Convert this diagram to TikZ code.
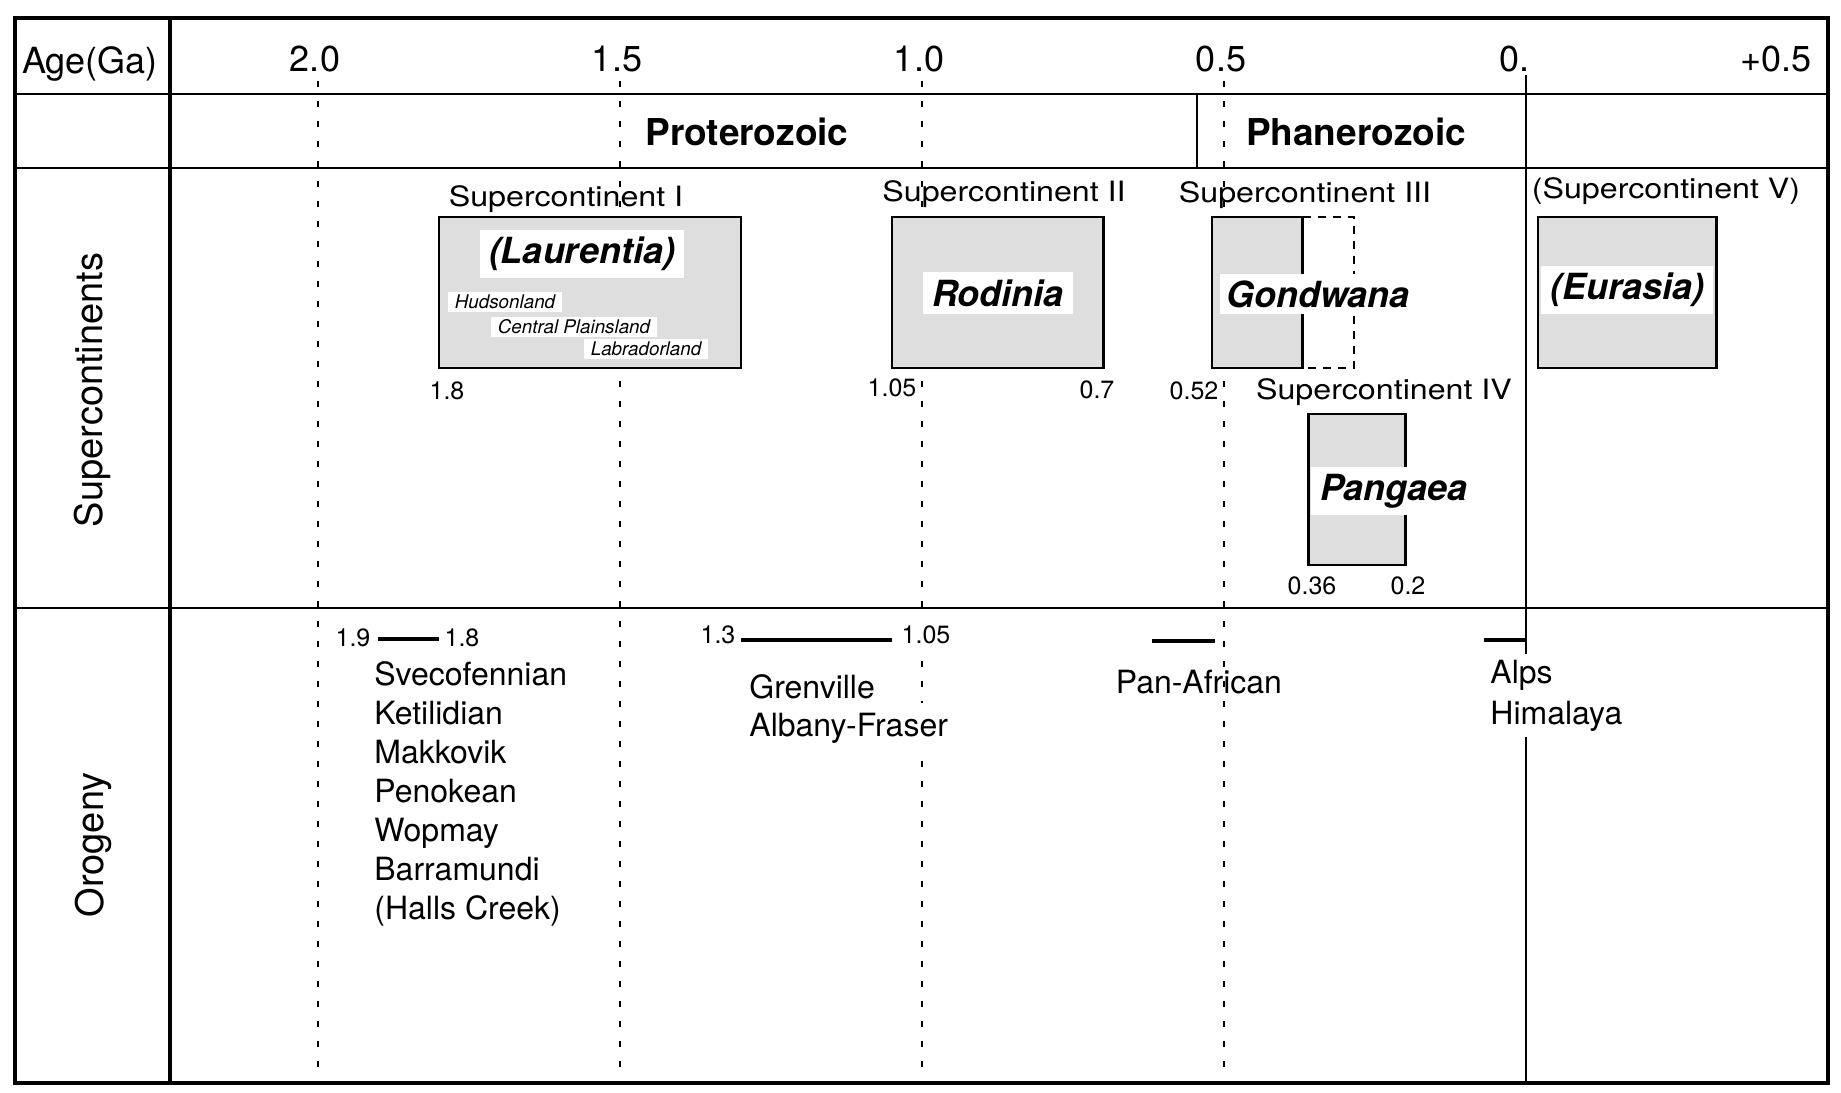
\documentclass[tikz,border=0pt]{standalone}
\usepackage{fontspec}
\setmainfont{TeX Gyre Heros}
\newfontfamily\largafont[FakeStretch=1.15]{TeX Gyre Heros}
\usepackage{tikz}

% idade (Ga) -> posicao horizontal
\pgfmathdeclarefunction{ga}{1}{\pgfmathparse{1526-604*#1}}

\tikzset{
  moldura/.style={line width=2pt},
  linha/.style={line width=1.3pt},
  idade/.style={line width=1.2pt, dash pattern=on 3pt off 7pt},
  caixa/.style={draw, line width=1.3pt, fill=black!13},
  tracejado/.style={line width=1.3pt, dash pattern=on 4pt off 3.5pt},
  nome/.style={fill=white, inner xsep=4.5pt, minimum height=21pt,
    font=\fontsize{18}{18}\selectfont\bfseries\itshape},
  regiao/.style={fill=white, inner xsep=3.5pt, inner ysep=0pt, minimum height=10pt,
    font=\fontsize{9.4}{9.4}\selectfont\itshape},
  eixo/.style={inner sep=0pt, anchor=base, font=\fontsize{18}{18}\selectfont},
  era/.style={inner sep=0pt, anchor=base, font=\fontsize{18.5}{18.5}\selectfont\bfseries},
  super/.style={inner sep=0pt, anchor=base, font=\largafont\fontsize{14}{14}\selectfont},
  num/.style={inner sep=0pt, anchor=base, font=\fontsize{12.5}{12.5}\selectfont},
  oro/.style={inner sep=0pt, anchor=base west, font=\fontsize{16}{16}\selectfont},
  barra/.style={line width=2.2pt},
  lateral/.style={rotate=90, font=\fontsize{19}{19}\selectfont},
}

\begin{document}
\begin{tikzpicture}[x=0.5pt, y=-0.5pt]
  \useasboundingbox (0,0) rectangle (1841,1092);
  % Linhas de idade
  \foreach \a in {2.0,1.5,1.0,0.5}
    \draw[idade] ({ga(\a)},81) -- ({ga(\a)},1083);
  \draw[linha] ({ga(0)},75) -- ({ga(0)},1083);
  % Tabela
  \draw[linha] (15,94) -- (1828,94);
  \draw[linha] (15,168) -- (1828,168);
  \draw[linha] (15,608) -- (1828,608);
  \draw[line width=1pt] ({ga(0.545)},94) -- ({ga(0.545)},168);
  \draw[moldura] (170,18) -- (170,1083);
  \draw[moldura] (15,18) rectangle (1828,1083);
  % Escala
  \node[eixo] (age) at (90,73) {Age(Ga)};
  \foreach \a [count=\i] in {2.0,1.5,1.0,0.5}
    \node[eixo] (tick\i) at ({ga(\a)-3},71) {\a};
  \node[eixo] (tick0) at (1514,71) {0.};
  \node[eixo] (tickf) at (1776,71) {+0.5};
  % Eras
  \node[era] (prot) at (747,145) {Proterozoic};
  \node[era] (phan) at (1356,145) {Phanerozoic};
  % Linhas da tabela
  \node[lateral] (lsc) at (92,390) {Supercontinents};
  \node[lateral] (loro) at (93,845) {Orogeny};
  % Supercontinentes
  \draw[caixa] ({ga(1.8)},217) rectangle ({ga(1.3)},368);
  \draw[caixa] ({ga(1.05)},217) rectangle ({ga(0.7)},368);
  \draw[caixa] ({ga(0.52)},217) rectangle ({ga(0.37)},368);
  \draw[tracejado] ({ga(0.37)},217) -- ({ga(0.285)},217) -- ({ga(0.285)},368) -- ({ga(0.37)},368);
  \draw[caixa] ({ga(0.36)},414) rectangle ({ga(0.2)},565);
  \draw[caixa] ({ga(-0.02)},217) rectangle ({ga(-0.315)},368);
  \node[super] (sc1) at (566,206) {Supercontinent I};
  \node[super] (sc2) at (1004,201) {Supercontinent II};
  \node[super] (sc3) at (1305,202) {Supercontinent III};
  \node[super] (sc4) at (1384,399) {Supercontinent IV};
  \node[super] (sc5) at (1666,198) {(Supercontinent V)};
  \node[nome, minimum height=24pt] (laur) at (582,254) {(Laurentia)};
  \node[regiao] (hud) at (505,302) {Hudsonland};
  \node[regiao] (cpl) at (574,327) {Central Plainsland};
  \node[regiao] (lab) at (646,349) {Labradorland};
  \node[nome] (rod) at (998,293) {Rodinia};
  \node[nome, inner xsep=3pt, minimum height=20pt] (gon) at (1318,294) {Gondwana};
  \node[nome, minimum height=23pt] (pan) at (1394,491) {Pangaea};
  \node[nome, minimum height=24pt, minimum width=86pt, inner xsep=0pt] (eur)
    at ({(ga(-0.02)+ga(-0.315))/2},290) {(Eurasia)};
  \node[num] (n18) at (447,399) {1.8};
  \node[num] (n105) at (892,396) {1.05};
  \node[num] (n07) at (1097,398) {0.7};
  \node[num] (n052) at (1194,399) {0.52};
  \node[num] (n036) at (1312,594) {0.36};
  \node[num] (n02) at (1408,594) {0.2};
  % Orogenias
  \node[num] (o19) at (353,646) {1.9};
  \node[num] (o18) at (462,646) {1.8};
  \draw[barra] ({ga(1.9)},639) -- ({ga(1.8)},639);
  \foreach \n [count=\i from 0] in {Svecofennian,Ketilidian,Makkovik,Penokean,Wopmay,Barramundi,(Halls Creek)}
    \node[oro] (svec\i) at (374,685.5+39*\i) {\n};
  \node[num] (o13) at (718,643) {1.3};
  \node[num, fill=white, inner sep=4pt] (o105) at (926,643) {1.05};
  \draw[barra] ({ga(1.3)},640) -- ({ga(1.05)},640);
  \node[oro] (gren) at (749,698.5) {Grenville};
  \node[oro, fill=white, inner sep=5pt] (alb) at (739,736.5) {Albany-Fraser};
  \draw[barra] ({ga(0.62)},641) -- ({ga(0.515)},641);
  \node[oro, anchor=base] (panaf) at (1199,693.5) {Pan-African};
  \draw[barra] ({ga(0.07)},640) -- ({ga(0)},640);
  \node[oro, fill=white, inner sep=3pt] (alps) at (1484,683.5) {Alps};
  \node[oro, fill=white, inner sep=3pt] (hima) at (1484,724.5) {Himalaya};
\end{tikzpicture}
\end{document}
